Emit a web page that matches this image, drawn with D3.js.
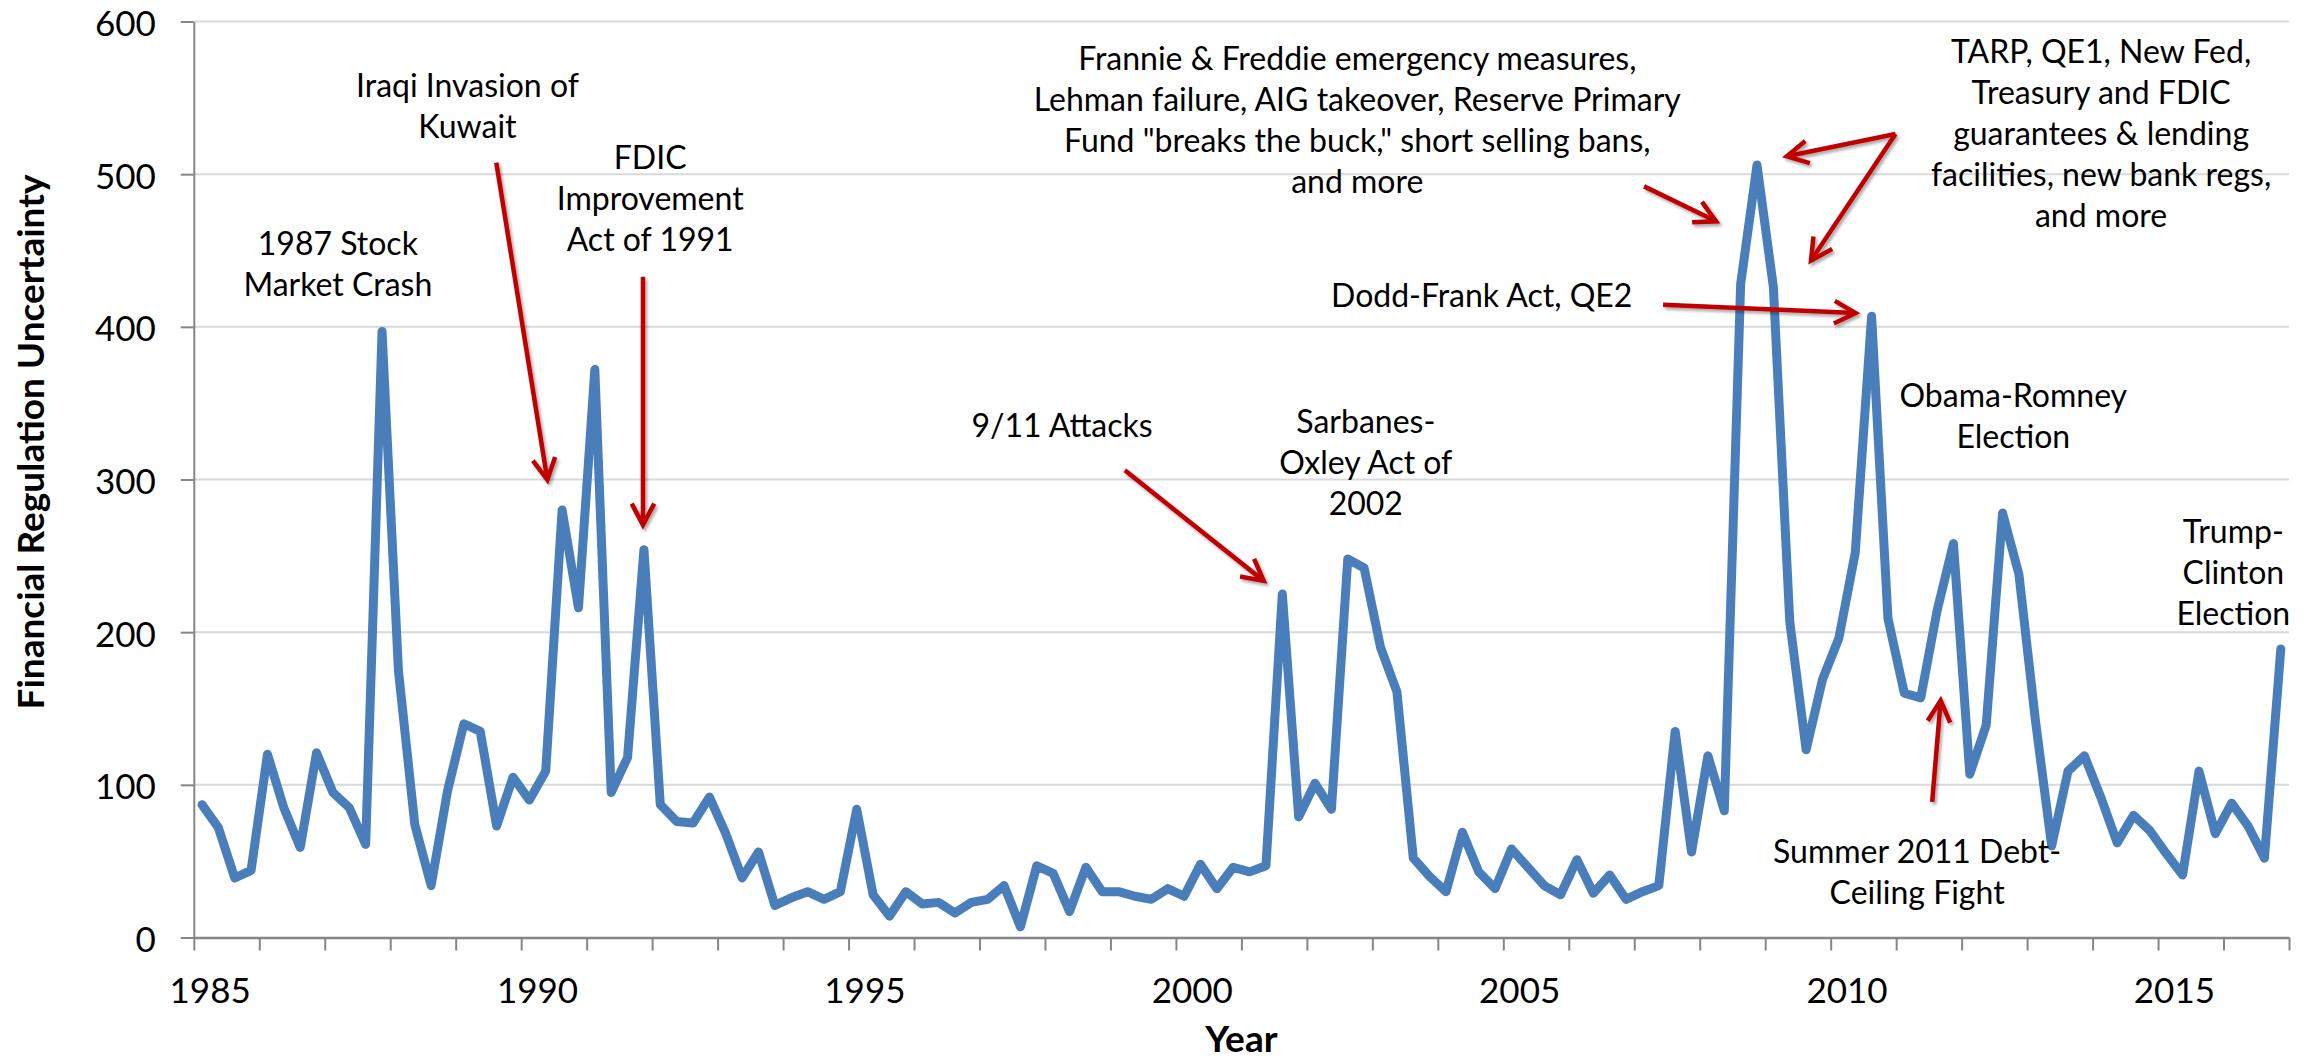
<!DOCTYPE html>
<html>
<head>
<meta charset="utf-8">
<script src="https://cdn.jsdelivr.net/npm/d3@7"></script>
<style>
  html, body { margin: 0; padding: 0; background: #ffffff; }
  svg { display: block; }
</style>
</head>
<body>
<svg id="chart" width="2310" height="1064"></svg>
<script>
// ---------------- DATA ----------------
const years = [1985,1986,1987,1988,1989,1990,1991,1992,1993,1994,1995,1996,1997,1998,1999,2000,
               2001,2002,2003,2004,2005,2006,2007,2008,2009,2010,2011,2012,2013,2014,2015,2016];
const quarterNames = ["Q1","Q2","Q3","Q4"];

// Financial Regulation Uncertainty, quarterly 1985 Q1 - 2016 Q4
const uncertainty = [
  87, 72, 39, 44,   120, 85, 59, 121,   95, 85, 61, 397,   175, 74, 34, 96,      // 1985-1988
  140, 135, 73, 105,  90, 109, 280, 216,  372, 95, 118, 254,  87, 76, 75, 92,    // 1989-1992
  68, 39, 56, 21,   26, 30, 25, 30,   84, 28, 14, 30,   22, 23, 16, 23,          // 1993-1996
  25, 34, 7, 47,    42, 17, 46, 30,   30, 27, 25, 32,   27, 48, 32, 46,          // 1997-2000
  43, 47, 225, 79,  101, 84, 248, 242,  190, 161, 52, 40,  30, 69, 43, 32,       // 2001-2004
  58, 46, 34, 28,   51, 29, 41, 25,   30, 34, 135, 56,   119, 83, 428, 506,      // 2005-2008
  426, 207, 123, 169,  196, 252, 407, 209,  160, 157, 214, 258,  107, 139, 278, 238, // 2009-2012
  143, 60, 109, 119,  92, 62, 80, 70,   55, 41, 109, 68,   88, 73, 52, 189       // 2013-2016
];

const yTicks = [0, 100, 200, 300, 400, 500, 600];
const xLabelYears = [1985, 1990, 1995, 2000, 2005, 2010, 2015];

// annotation text: anchor (year, value) = centre / baseline of first line
const annotations = [
  { lines: ["1987 Stock", "Market Crash"], year: 1987.20, value: 447 },
  { lines: ["Iraqi Invasion of", "Kuwait"], year: 1989.18, value: 550.5 },
  { lines: ["FDIC", "Improvement", "Act of 1991"], year: 1991.97, value: 503.4 },
  { lines: ["9/11 Attacks"], year: 1998.26, value: 328 },
  { lines: ["Sarbanes-", "Oxley Act of", "2002"], year: 2002.90, value: 330.7 },
  { lines: ["Frannie & Freddie emergency measures,", "Lehman failure, AIG takeover, Reserve Primary",
            "Fund \"breaks the buck,\" short selling bans,", "and more"], year: 2002.77, value: 568.2 },
  { lines: ["Dodd-Frank Act, QE2"], year: 2004.67, value: 413.2 },
  { lines: ["TARP, QE1, New Fed,", "Treasury and FDIC", "guarantees & lending",
            "facilities, new bank regs,", "and more"], year: 2014.13, value: 573 },
  { lines: ["Obama-Romney", "Election"], year: 2012.79, value: 347.7 },
  { lines: ["Summer 2011 Debt-", "Ceiling Fight"], year: 2011.32, value: 49.1 },
  { lines: ["Trump-", "Clinton", "Election"], year: 2016.15, value: 258.4 }
];

// arrows: from (year1,value1) to tip (year2,value2)
const arrows = [
  { y1: 1989.62, v1: 507.5, y2: 1990.40, v2: 299.8 },
  { y1: 1991.86, v1: 432.8, y2: 1991.86, v2: 270.3 },
  { y1: 1999.22, v1: 306.0, y2: 2001.34, v2: 233.6 },
  { y1: 2007.15, v1: 492.0, y2: 2008.25, v2: 469.1 },
  { y1: 2010.99, v1: 526.3, y2: 2009.33, v2: 511.7 },
  { y1: 2010.99, v1: 526.3, y2: 2009.70, v2: 443.5 },
  { y1: 2007.44, v1: 414.5, y2: 2010.38, v2: 409.0 },
  { y1: 2011.55, v1: 88.8,  y2: 2011.68, v2: 155.2 }
];

(function () {
// ---------------- LAYOUT ----------------
const W = 2310, H = 1064;
const plotLeft = 193.8, plotRight = 2289, plotTop = 21.5, plotBottom = 937.5;
const FONT = "Lato, Carlito, Calibri, 'Open Sans', sans-serif";

const svg = d3.select("#chart");
svg.append("rect").attr("width", W).attr("height", H).attr("fill", "#ffffff");

const categories = years.flatMap(yr => quarterNames.map(q => yr + " " + q));
const series = categories.map((c, i) => ({ cat: c, v: uncertainty[i] }));

const x = d3.scaleBand().domain(categories).range([plotLeft, plotRight]).padding(0);
const xYear = d3.scaleLinear().domain([years[0], years[years.length - 1] + 1]).range([plotLeft, plotRight]);
const y = d3.scaleLinear().domain([0, 600]).range([plotBottom, plotTop]);

// shadow filter for arrows
const defs = svg.append("defs");
const f = defs.append("filter").attr("id", "shadow").attr("x", "-20%").attr("y", "-20%")
  .attr("width", "140%").attr("height", "140%");
f.append("feDropShadow").attr("dx", 2).attr("dy", 2.5).attr("stdDeviation", 1.8)
  .attr("flood-color", "#000").attr("flood-opacity", 0.35);

// gridlines
svg.append("g").selectAll("line")
  .data(yTicks.filter(t => t > 0))
  .join("line")
  .attr("x1", plotLeft).attr("x2", plotRight)
  .attr("y1", d => y(d)).attr("y2", d => y(d))
  .attr("stroke", "#d9d9d9").attr("stroke-width", 2);

// y axis
const yAxis = svg.append("g").attr("transform", `translate(${plotLeft},0)`)
  .call(d3.axisLeft(y).tickValues(yTicks).tickSize(13).tickSizeOuter(0).tickPadding(25));
yAxis.select(".domain").attr("stroke", "#868686").attr("stroke-width", 2);
yAxis.selectAll(".tick line").attr("stroke", "#868686").attr("stroke-width", 2);
yAxis.selectAll(".tick text")
  .attr("font-family", FONT).attr("font-size", 35).attr("fill", "#000")
  .attr("dy", "0.40em");

// x axis tick marks (between categories, every year)
const xTickYears = years.concat([years[years.length - 1] + 1]);
const xAxis = svg.append("g").attr("transform", `translate(0,${plotBottom})`)
  .call(d3.axisBottom(xYear).tickValues(xTickYears).tickSize(13).tickSizeOuter(0).tickFormat(""));
xAxis.select(".domain").attr("stroke", "#868686").attr("stroke-width", 2.5);
xAxis.selectAll(".tick line").attr("stroke", "#868686").attr("stroke-width", 2);

// x axis labels (centred on the first quarter of the year)
const xLab = svg.append("g").attr("transform", `translate(${x.bandwidth() / 2},${plotBottom})`)
  .call(d3.axisBottom(x).tickValues(xLabelYears.map(yr => yr + " Q1"))
    .tickFormat(d => d.slice(0, 4)).tickSize(0).tickPadding(0));
xLab.select(".domain").remove();
xLab.selectAll(".tick text")
  .attr("font-family", FONT).attr("font-size", 35).attr("fill", "#000")
  .attr("y", 65).attr("dy", 0);

// axis titles
svg.append("text")
  .attr("x", (plotLeft + plotRight) / 2).attr("y", 1052)
  .attr("text-anchor", "middle")
  .attr("font-family", FONT).attr("font-weight", "bold").attr("font-size", 37)
  .text("Year");

svg.append("text")
  .attr("transform", "translate(44,442) rotate(-90)")
  .attr("text-anchor", "middle")
  .attr("font-family", FONT).attr("font-weight", "bold").attr("font-size", 37)
  .text("Financial Regulation Uncertainty");

// data line
const line = d3.line()
  .x(d => x(d.cat) + x.bandwidth() / 2)
  .y(d => y(d.v));
svg.append("path")
  .datum(series)
  .attr("d", line)
  .attr("fill", "none")
  .attr("stroke", "#4a7ebb")
  .attr("stroke-width", 9)
  .attr("stroke-linejoin", "round")
  .attr("stroke-linecap", "round");

// annotations
const lineGap = 41;
const ann = svg.append("g").attr("font-family", FONT).attr("font-size", 32).attr("fill", "#000");
annotations.forEach(a => {
  const t = ann.append("text").attr("text-anchor", "middle");
  a.lines.forEach((ln, k) => {
    t.append("tspan").attr("x", xYear(a.year)).attr("y", y(a.value) + k * lineGap).text(ln);
  });
});

// arrows
const arrowG = svg.append("g").attr("filter", "url(#shadow)")
  .attr("stroke", "#c00000").attr("stroke-width", 4.5).attr("fill", "none");
const headLen = 24, headAng = 28 * Math.PI / 180;
arrows.forEach(a => {
  const x1 = xYear(a.y1), y1 = y(a.v1), x2 = xYear(a.y2), y2 = y(a.v2);
  const ang = Math.atan2(y1 - y2, x1 - x2);
  const w1 = [x2 + headLen * Math.cos(ang + headAng), y2 + headLen * Math.sin(ang + headAng)];
  const w2 = [x2 + headLen * Math.cos(ang - headAng), y2 + headLen * Math.sin(ang - headAng)];
  arrowG.append("path").attr("d", `M${x1},${y1}L${x2},${y2}`);
  arrowG.append("path").attr("d", `M${w1[0]},${w1[1]}L${x2},${y2}L${w2[0]},${w2[1]}`)
    .attr("stroke-linejoin", "miter");
});
})();
</script>
</body>
</html>
